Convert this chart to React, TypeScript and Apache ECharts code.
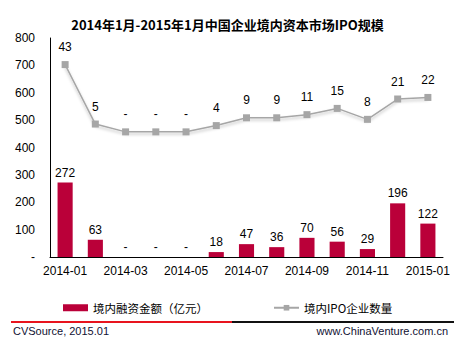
import React, { useEffect, useRef } from "react";
import * as echarts from "echarts";

const categories = ["2014-01","2014-02","2014-03","2014-04","2014-05","2014-06","2014-07","2014-08","2014-09","2014-10","2014-11","2014-12","2015-01"];
const financing = [272, 63, 0, 0, 0, 18, 47, 36, 70, 56, 29, 196, 122];
const ipoCount = [43, 5, 0, 0, 0, 4, 9, 9, 11, 15, 8, 21, 22];
const titleText = "2014年1月-2015年1月中国企业境内资本市场IPO规模";
const barName = "境内融资金额（亿元）";
const lineName = "境内IPO企业数量";
const sourceText = "CVSource, 2015.01";
const siteText = "www.ChinaVenture.com.cn";

const FONT = "'Liberation Sans', Arial, 'Noto Sans CJK SC', sans-serif";

export default function App() {
  const ref = useRef<HTMLDivElement>(null);
  useEffect(() => {
    if (!ref.current) return;
    const chart = echarts.init(ref.current, null, { renderer: "svg" });
    const zeroDash = (p: any) => (p.value === 0 ? "-" : String(p.value));
    chart.setOption({
      animation: false,
      backgroundColor: "#ffffff",
      textStyle: { fontFamily: FONT },
      title: {
        text: titleText,
        left: "center",
        top: 13,
        textStyle: { fontSize: 13, fontWeight: "bold", color: "#000", fontFamily: "'Noto Sans CJK SC', sans-serif" },
      },
      grid: { left: 50, right: 12, top: 38, bottom: 94, containLabel: false },
      legend: {
        left: 63,
        top: 302,
        itemWidth: 25,
        itemHeight: 7,
        itemGap: 65,
        padding: 0,
        textStyle: { fontSize: 11.5, color: "#000", fontFamily: "'Noto Sans CJK SC', sans-serif" },
        data: [
          { name: barName, icon: "rect" },
          { name: lineName },
        ],
      },
      xAxis: {
        type: "category",
        data: categories,
        boundaryGap: true,
        axisLine: { lineStyle: { color: "#000", width: 1 } },
        axisTick: { show: false },
        axisLabel: { interval: 1, fontSize: 12, color: "#000", margin: 8 },
      },
      yAxis: [
        {
          type: "value",
          min: 0,
          max: 800,
          interval: 100,
          axisLine: { show: true, lineStyle: { color: "#000", width: 1 } },
          axisTick: { show: false },
          splitLine: { show: false },
          axisLabel: {
            fontSize: 12,
            color: "#000",
            margin: 15,
            formatter: (v: number) => (v === 0 ? "-" : String(v)),
          },
        },
        {
          type: "value",
          min: -80,
          max: 60,
          show: false,
          splitLine: { show: false },
        },
      ],
      series: [
        {
          name: barName,
          type: "bar",
          data: financing,
          barWidth: "50%",
          itemStyle: { color: "#BA0039" },
          label: { show: true, position: "top", fontSize: 12, color: "#000", distance: 4, formatter: zeroDash },
        },
        {
          name: lineName,
          type: "line",
          yAxisIndex: 1,
          data: ipoCount,
          symbol: "rect",
          symbolSize: 7,
          itemStyle: { color: "#A6A6A6" },
          lineStyle: { color: "#A6A6A6", width: 1.5, shadowColor: "rgba(0,0,0,0.25)", shadowBlur: 3, shadowOffsetY: 2 },
          label: { show: true, position: "top", fontSize: 12, color: "#000", distance: 8, formatter: zeroDash },
        },
      ],
      graphic: [
        { type: "line", shape: { x1: 11, y1: 322, x2: 232, y2: 322 }, style: { stroke: "#E8141E", lineWidth: 2 } },
        { type: "line", shape: { x1: 232, y1: 322, x2: 454, y2: 322 }, style: { stroke: "#111111", lineWidth: 2 } },
        { type: "text", left: 13, top: 325, style: { text: sourceText, fontSize: 11, fill: "#111133", fontFamily: FONT } },
        { type: "text", right: 7, top: 325, style: { text: siteText, fontSize: 11, fill: "#111133", fontFamily: FONT } },
      ],
    });
    return () => chart.dispose();
  }, []);
  return <div ref={ref} style={{ width: 455, height: 351, position: "absolute", left: 0, top: 0 }} />;
}
